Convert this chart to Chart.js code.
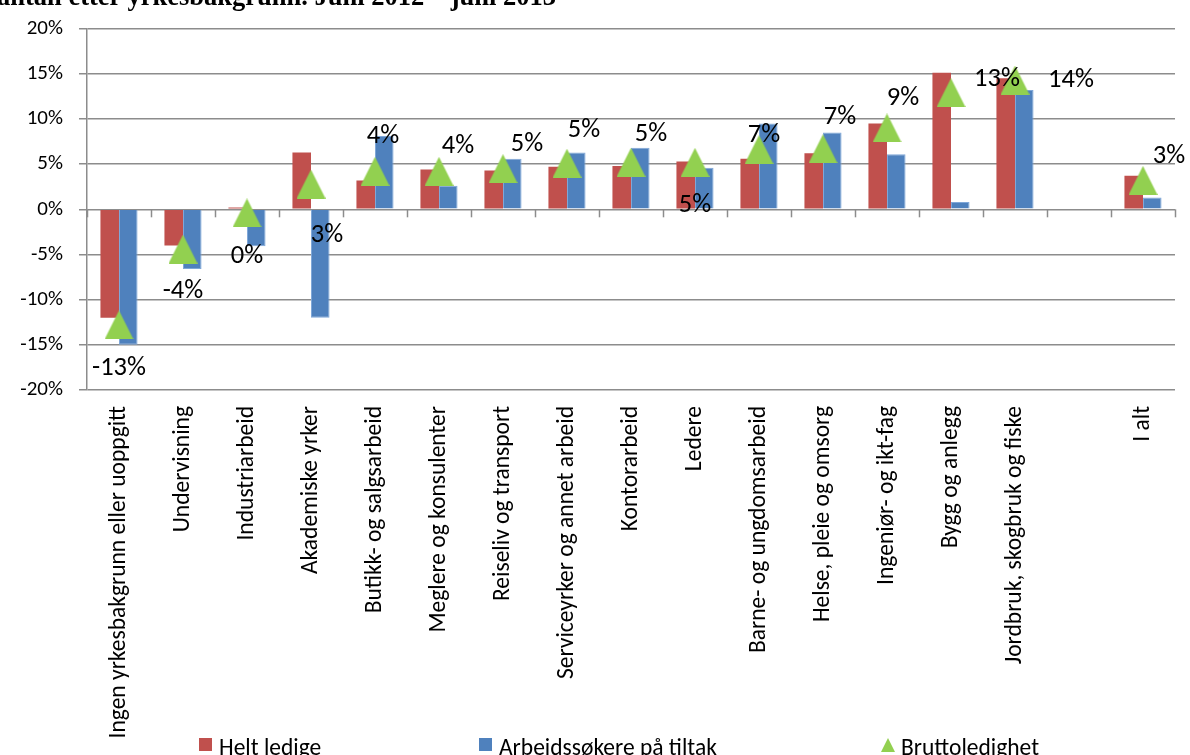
<!DOCTYPE html>
<html>
<head>
<meta charset="utf-8">
<script src="https://cdn.jsdelivr.net/npm/chart.js@4.4.0/dist/chart.umd.min.js"></script>
<style>
  html, body { margin: 0; padding: 0; background: #fff; }
  #wrap { position: relative; width: 1190px; height: 755px; overflow: hidden; }
  #title { position: absolute; left: -3px; top: -17px; font: bold 26.5px "Liberation Serif", "Times New Roman", serif; line-height: 26.5px; white-space: nowrap; color: #000; }
  .item { position: absolute; top: 733px; height: 22px; line-height: 22px; font: 23.5px Carlito, Lato, sans-serif; color: #000; white-space: nowrap; }
  .mark { position: absolute; left: 0; top: 5px; width: 13px; height: 13px; }
  .tri { width: 0; height: 0; border-left: 7px solid transparent; border-right: 7px solid transparent; border-bottom: 14px solid #92D050; }
  .item span { position: absolute; left: 20px; top: 0; }
</style>
</head>
<body>
<div id="wrap">
  <canvas id="chart" width="1190" height="755"></canvas>
  <div id="title">antall etter yrkesbakgrunn. Juni 2012 – juni 2013</div>
  <div class="item" style="left:199px"><div class="mark" style="background:#C0504D"></div><span>Helt ledige</span></div>
  <div class="item" style="left:479px"><div class="mark" style="background:#4F81BD"></div><span>Arbeidssøkere på tiltak</span></div>
  <div class="item" style="left:881px"><div class="mark tri"></div><span>Bruttoledighet</span></div>
</div>
<script>
// --- DATA ---
const categories = [
  'Ingen yrkesbakgrunn eller uoppgitt', 'Undervisning', 'Industriarbeid', 'Akademiske yrker',
  'Butikk- og salgsarbeid', 'Meglere og konsulenter', 'Reiseliv og transport',
  'Serviceyrker og annet arbeid', 'Kontorarbeid', 'Ledere', 'Barne- og ungdomsarbeid',
  'Helse, pleie og omsorg', 'Ingeniør- og ikt-fag', 'Bygg og anlegg',
  'Jordbruk, skogbruk og fiske', '', 'I alt'
];
const heltLedige = [-12.0, -4.0, 0.2, 6.3, 3.2, 4.4, 4.3, 4.7, 4.8, 5.3, 5.6, 6.2, 9.5, 15.1, 14.5, null, 3.7];
const paTiltak   = [-15.0, -6.6, -4.1, -12.0, 8.1, 2.6, 5.6, 6.3, 6.8, 4.6, 9.5, 8.5, 6.1, 0.8, 13.2, null, 1.3];
const brutto     = [-12.8, -4.4, -0.4, 2.8, 4.2, 4.2, 4.5, 5.1, 5.2, 5.2, 6.6, 6.7, 9.0, 12.9, 14.3, null, 3.2];
const yTicks = [-20, -15, -10, -5, 0, 5, 10, 15, 20];

// label placement for the Bruttoledighet values (px from marker centre)
const labelOffsets = [
  [0, 43], [0, 42], [0, 43], [16, 51], [8, -35], [19, -25], [24, -24], [17, -33], [20, -28],
  [0, 43], [5, -14], [17, -31], [16, -30], [46, -13], [56, 0], null, [26, -24]
];

const FONT = 'Carlito, Lato, sans-serif';
const GRID = '#8c8c8c';

// triangle marker (Excel style, as tall as wide)
function triangleMarker(w, h, color) {
  const c = document.createElement('canvas');
  c.width = w; c.height = h;
  const g = c.getContext('2d');
  g.fillStyle = color;
  g.beginPath();
  g.moveTo(w / 2, 0);
  g.lineTo(w, h);
  g.lineTo(0, h);
  g.closePath();
  g.fill();
  return c;
}
const triImg = triangleMarker(29, 29, '#92D050');

// small tick marks on the zero line between categories
const zeroTicks = {
  id: 'zeroTicks',
  beforeDatasetsDraw(chart) {
    const xs = chart.scales.x, ys = chart.scales.y;
    const y0 = ys.getPixelForValue(0);
    const n = xs.ticks.length;
    const step = (xs.right - xs.left) / n;
    const ctx = chart.ctx;
    ctx.save();
    ctx.strokeStyle = GRID;
    ctx.lineWidth = 1.5;
    for (let i = 0; i <= n; i++) {
      const x = Math.round(xs.left + i * step) + 0.5;
      ctx.beginPath();
      ctx.moveTo(x, y0);
      ctx.lineTo(x, y0 + 8);
      ctx.stroke();
    }
    ctx.restore();
  }
};

// value labels next to the triangles
const pointLabels = {
  id: 'pointLabels',
  afterDatasetsDraw(chart) {
    const meta = chart.getDatasetMeta(0);
    const ctx = chart.ctx;
    ctx.save();
    ctx.font = '26.5px ' + FONT;
    ctx.fillStyle = '#000';
    ctx.textAlign = 'center';
    ctx.textBaseline = 'middle';
    meta.data.forEach((pt, i) => {
      const v = brutto[i];
      const off = labelOffsets[i];
      if (v === null || !off) return;
      ctx.fillText(Math.round(v) + '%', pt.x + off[0], pt.y + off[1]);
    });
    ctx.restore();
  }
};

new Chart(document.getElementById('chart'), {
  type: 'bar',
  data: {
    labels: categories,
    datasets: [
      {
        type: 'line',
        label: 'Bruttoledighet',
        data: brutto,
        showLine: false,
        pointStyle: triImg,
        pointRadius: 14,
        order: 0
      },
      {
        label: 'Helt ledige',
        data: heltLedige,
        backgroundColor: '#C0504D',
        categoryPercentage: 0.58,
        barPercentage: 1,
        order: 1
      },
      {
        label: 'Arbeidssøkere på tiltak',
        data: paTiltak,
        backgroundColor: '#4F81BD',
        borderColor: '#7FA7D8',
        borderWidth: 1,
        categoryPercentage: 0.58,
        barPercentage: 1,
        order: 1
      }
    ]
  },
  options: {
    responsive: false,
    animation: false,
    layout: { padding: { top: 23, right: 12, bottom: 0, left: 0 } },
    plugins: {
      legend: { display: false },
      tooltip: { enabled: false }
    },
    scales: {
      x: {
        grid: { display: false, drawTicks: false },
        border: { display: false },
        ticks: {
          color: '#000',
          font: { family: FONT, size: 23.5 },
          minRotation: 90,
          maxRotation: 90,
          autoSkip: false,
          padding: 16
        },
        afterFit: (scale) => { scale.height = 365; }
      },
      y: {
        min: -20,
        max: 20,
        afterBuildTicks: (scale) => { scale.ticks = yTicks.map(v => ({ value: v })); },
        grid: { color: GRID, lineWidth: 1.5, tickLength: 8 },
        border: { color: GRID, width: 1.5 },
        ticks: {
          color: '#000',
          font: { family: FONT, size: 21 },
          padding: 16,
          callback: (v) => v + '%'
        },
        afterFit: (scale) => { scale.width = 87; }
      }
    }
  },
  plugins: [zeroTicks, pointLabels]
});
</script>
</body>
</html>
